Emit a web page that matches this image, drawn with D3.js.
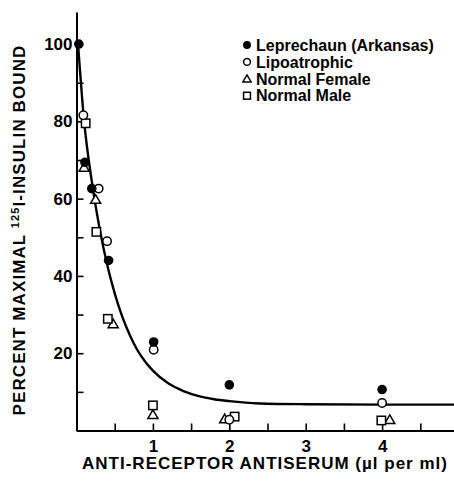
<!DOCTYPE html>
<html><head><meta charset="utf-8">
<script src="https://cdn.jsdelivr.net/npm/d3@7"></script>
<style>
body{margin:0;background:#fff;}
text{font-family:"Liberation Sans",Arial,sans-serif;font-weight:bold;fill:#000;}
</style></head>
<body><svg id="c" width="454" height="482"></svg>
<script>
// Data
const leprechaun = [[0.03,100],[0.11,69.4],[0.20,62.6],[0.42,44.0],[1.01,22.9],[2.0,11.8],[4.0,10.6]];
const lipoatrophic = [[0.09,81.6],[0.29,62.6],[0.40,49.0],[1.01,20.9],[2.0,2.8],[4.0,7.1]];
const normalFemale = [[0.10,68.1],[0.25,59.8],[0.48,27.6],[1.0,4.1],[1.94,3.0],[4.1,2.8]];
const normalMale = [[0.12,79.5],[0.26,51.4],[0.41,28.9],[1.0,6.5],[2.07,3.6],[3.99,2.6]];
const curvePts = [[0.02,100],[0.1,80],[0.2,64.5],[0.3,52.5],[0.4,43],[0.5,35.5],[0.6,29.4],[0.7,24.6],[0.8,20.7],[0.9,17.8],[1.0,15.5],[1.2,12.2],[1.4,10.2],[1.6,8.9],[1.8,8.1],[2.0,7.6],[2.4,7.0],[3.0,6.8],[4.0,6.7],[4.95,6.7]];
const yTickValues = [0,10,20,30,40,50,60,70,80,90,100];
const yTickLabels = ["","","20","","40","","60","","80","","100"];
const xTickValues = [0.5,1,1.5,2,2.5,3,3.5,4,4.5];
const xTickLabels = ["","1","","2","","3","","4",""];
const legendNames = ["Leprechaun (Arkansas)","Lipoatrophic","Normal Female","Normal Male"];
const legendSymbols = ["filled","circle","triangle","square"];

const svg = d3.select("#c");
const x = d3.scaleLinear().domain([0,4.95]).range([76.5,454.7]);
const y = d3.scaleLinear().domain([0,108.3]).range([430.5,12]);

// Axes
const yAxis = d3.axisLeft(y).tickValues(yTickValues).tickSize(-7).tickSizeOuter(0).tickPadding(4)
  .tickFormat((d,i)=>yTickLabels[i]);
const gy = svg.append("g").attr("transform",`translate(${x(0)},0)`).call(yAxis);
const xAxis = d3.axisBottom(x).tickValues(xTickValues).tickSize(-7).tickSizeOuter(0).tickPadding(9)
  .tickFormat((d,i)=>xTickLabels[i]);
const gx = svg.append("g").attr("transform",`translate(0,${y(0)})`).call(xAxis);
[gx,gy].forEach(g=>{
  g.select(".domain").attr("stroke","#000").attr("stroke-width",2);
  g.selectAll(".tick line").attr("stroke","#000").attr("stroke-width",1.6);
  g.selectAll("text").style("font-size","17px").style("font-family","'Liberation Sans',Arial,sans-serif").style("font-weight","bold");
});

// Curve
svg.append("path").datum(curvePts)
  .attr("d", d3.line().x(d=>x(d[0])).y(d=>y(d[1])).curve(d3.curveMonotoneX))
  .attr("fill","none").attr("stroke","#000").attr("stroke-width",2.4);

// Symbols
function drawSym(g, type, cx, cy, s){
  if(type==="filled"){
    g.append("circle").attr("cx",cx).attr("cy",cy).attr("r",4.8*s).attr("fill","#000");
  } else if(type==="circle"){
    g.append("circle").attr("cx",cx).attr("cy",cy).attr("r",4.2*s).attr("fill","#fff").attr("stroke","#000").attr("stroke-width",1.5);
  } else if(type==="triangle"){
    const h=4.8*s;
    g.append("path").attr("d",`M${cx},${cy-h}L${cx+h*1.05},${cy+h*0.8}L${cx-h*1.05},${cy+h*0.8}Z`)
      .attr("fill","#fff").attr("stroke","#000").attr("stroke-width",1.5);
  } else {
    const h=4.2*s;
    g.append("rect").attr("x",cx-h).attr("y",cy-h).attr("width",2*h).attr("height",2*h)
      .attr("fill","#fff").attr("stroke","#000").attr("stroke-width",1.5);
  }
}
const pts = svg.append("g");
const seriesList = [[normalFemale,"triangle"],[normalMale,"square"],[lipoatrophic,"circle"],[leprechaun,"filled"]];
seriesList.forEach(([data,type])=>{
  data.forEach(d=>drawSym(pts,type,x(d[0]),y(d[1]),1));
});

// Legend
const lg = svg.append("g");
legendNames.forEach((n,i)=>{
  const yy = 45 + i*16.9;
  drawSym(lg, legendSymbols[i], 247, yy, 0.82);
  lg.append("text").attr("x",256).attr("y",yy).attr("dy","0.36em").style("font-size","16px").text(n);
});

// Axis titles
svg.append("text").attr("x",265).attr("y",469).attr("text-anchor","middle").style("font-size","17px").style("letter-spacing","1px")
  .text("ANTI-RECEPTOR ANTISERUM (µl per ml)");
const yt = svg.append("text").attr("transform","translate(25,230) rotate(-90)").attr("text-anchor","middle").style("font-size","17px").style("letter-spacing","1.1px");
yt.append("tspan").text("PERCENT MAXIMAL ");
yt.append("tspan").attr("dy",-6).style("font-size","11px").text("125");
yt.append("tspan").attr("dy",6).text("I-INSULIN BOUND");
</script></body></html>
